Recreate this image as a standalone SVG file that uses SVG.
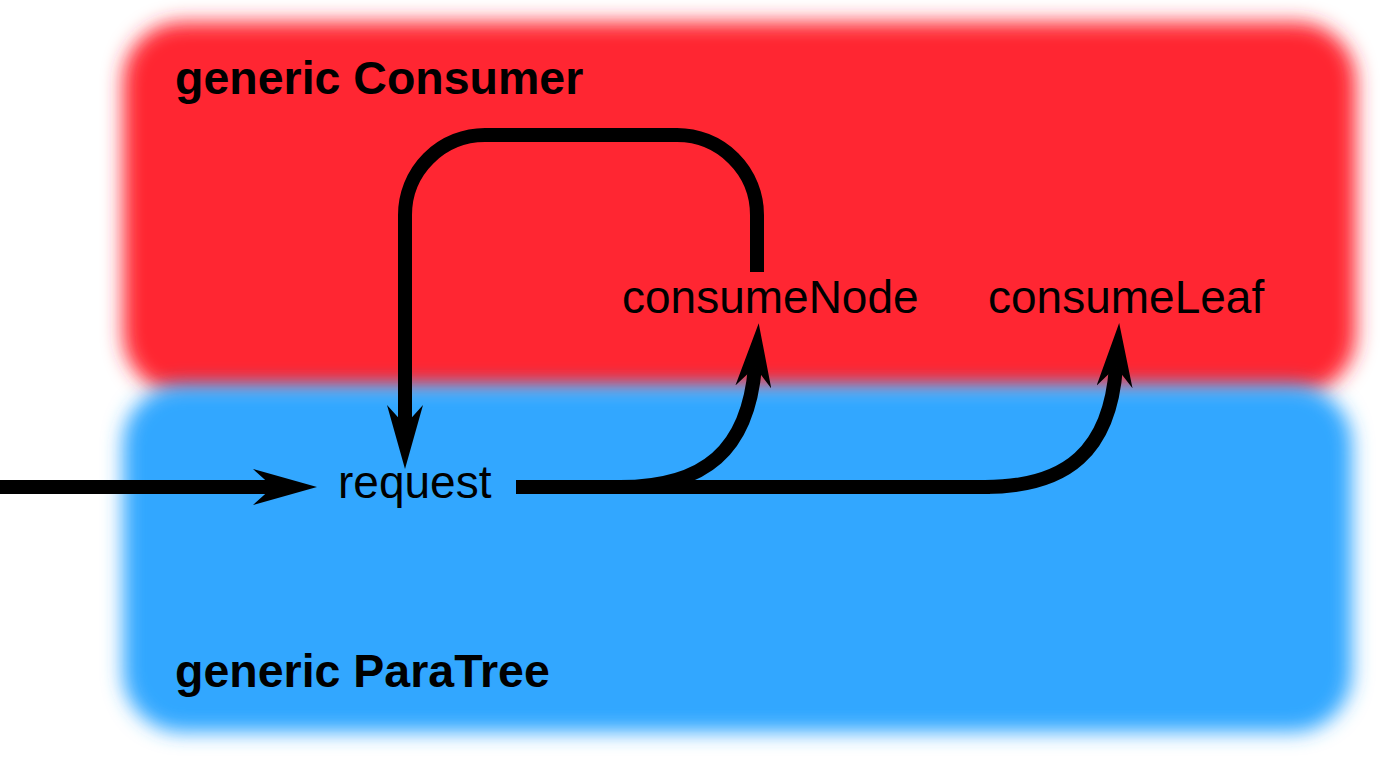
<svg xmlns="http://www.w3.org/2000/svg" width="1397" height="763" viewBox="0 0 1397 763">
  <style>
    .title { font-family: "Liberation Sans", Arial, sans-serif; font-size: 46.5px; font-weight: bold; fill: #000; }
    .label { font-family: "Liberation Sans", Arial, sans-serif; font-size: 46px; fill: #000; }
    .conn { fill: none; stroke: #000; stroke-width: 14; stroke-linecap: butt; stroke-linejoin: round; }
    .arrow { marker-end: url(#head); }
  </style>
  <defs>
    <filter id="soft" filterUnits="userSpaceOnUse" x="0" y="0" width="1397" height="763">
      <feGaussianBlur stdDeviation="10"/>
    </filter>
    <marker id="head" markerUnits="userSpaceOnUse" markerWidth="64" markerHeight="36" refX="20" refY="18" orient="auto">
      <path d="M0,0 L64,18 L0,36 L20,18 Z" fill="#000"/>
    </marker>
  </defs>
  <rect width="1397" height="763" fill="#fff"/>

  <g id="consumer">
    <rect x="123" y="22" width="1233" height="372" rx="60" fill="#ff2733" filter="url(#soft)"/>
    <text class="title" x="175" y="94">generic Consumer</text>
  </g>
  <g id="paratree">
    <rect x="123" y="385" width="1229" height="347" rx="60" fill="#33a7ff" filter="url(#soft)"/>
    <text class="title" x="175" y="687">generic ParaTree</text>
  </g>

  <g id="request"><text class="label" x="338" y="498">request</text></g>
  <g id="consumeNode"><text class="label" x="622" y="313">consumeNode</text></g>
  <g id="consumeLeaf"><text class="label" x="988" y="313">consumeLeaf</text></g>

  <g id="connectors">
    <path class="conn arrow" d="M0 487 H273"/>
    <path class="conn arrow" d="M757 272 V215 A80 80 0 0 0 677 135 H485 A80 80 0 0 0 405 215 V425"/>
    <path class="conn" d="M516 487 H990"/>
    <path class="conn arrow" d="M620 487 C705 487 748 450 755 367"/>
    <path class="conn arrow" d="M985 487 C1068 487 1110 450 1116 367"/>
  </g>
</svg>
